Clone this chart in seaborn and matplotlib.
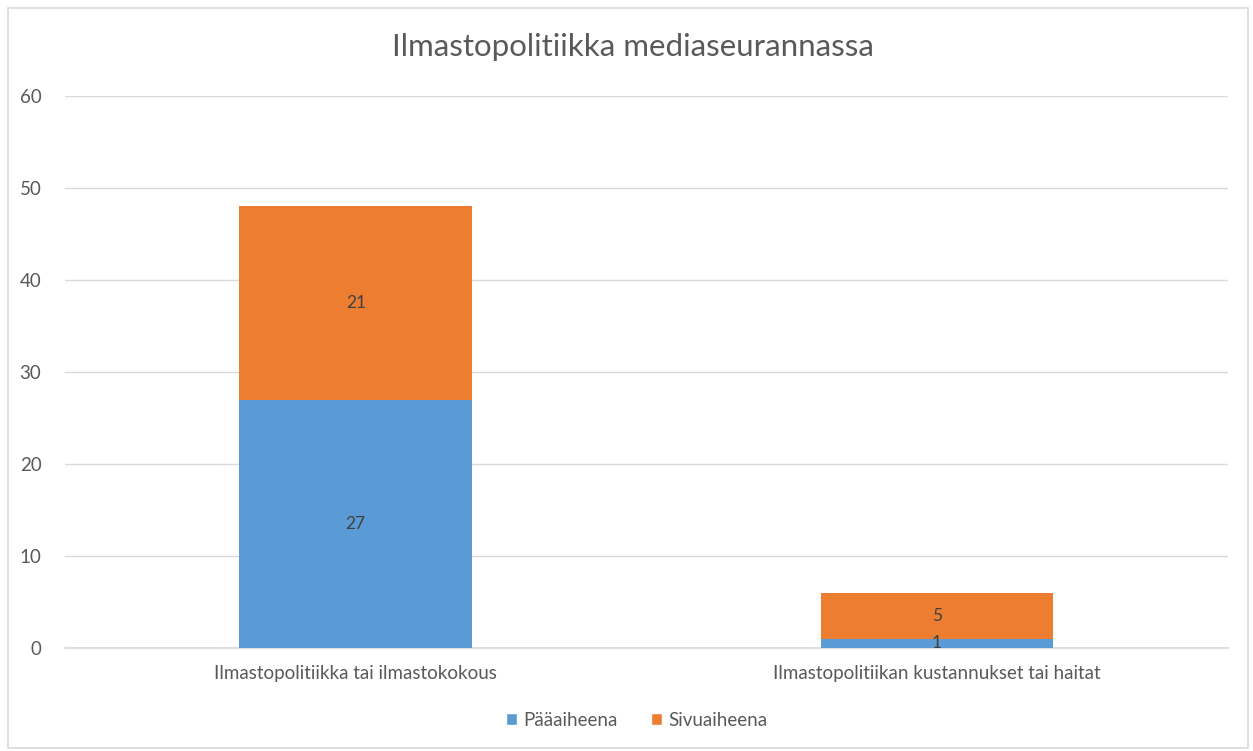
import pandas as pd
import matplotlib.pyplot as plt
import seaborn as sns
from matplotlib.patches import Rectangle, Patch

# Data
categories = ['Ilmastopolitiikka tai ilmastokokous', 'Ilmastopolitiikan kustannukset tai haitat']
paaaiheena = [27, 1]
sivuaiheena = [21, 5]
series_names = ['Pääaiheena', 'Sivuaiheena']
y_ticks = [0, 10, 20, 30, 40, 50, 60]

blue = '#5B9BD5'
orange = '#ED7D31'
text_gray = '#595959'

df = pd.DataFrame({'kategoria': categories, 'paa': paaaiheena, 'sivu': sivuaiheena})
df['yht'] = df['paa'] + df['sivu']

sns.set_theme(style='white')
plt.rcParams['font.family'] = ['Lato', 'DejaVu Sans']

fig = plt.figure(figsize=(12.53, 7.51), dpi=100)
ax = fig.add_axes([0.0519, 0.1372, 0.928, 0.735])

# Stacked bars: total in orange, main topic in blue on top of it
sns.barplot(data=df, x='kategoria', y='yht', color=orange, width=0.4, saturation=1, ax=ax,
            zorder=2, linewidth=0)
sns.barplot(data=df, x='kategoria', y='paa', color=blue, width=0.4, saturation=1, ax=ax,
            zorder=3, linewidth=0)

orange_bars = ax.containers[0]
blue_bars = ax.containers[1]
# labels centered on each segment
for bar, val in zip(blue_bars, df['paa']):
    ax.text(bar.get_x() + bar.get_width() / 2, val / 2, str(val),
            ha='center', va='center', fontsize=12.5, color='#404040', zorder=5)
for bar, base, val in zip(orange_bars, df['paa'], df['sivu']):
    ax.text(bar.get_x() + bar.get_width() / 2, base + val / 2, str(val),
            ha='center', va='center', fontsize=12.5, color='#404040', zorder=5)

ax.set_ylim(0, 60)
ax.set_xlim(-0.5, 1.5)
ax.set_yticks(y_ticks)
ax.yaxis.grid(True, color='#D9D9D9', linewidth=1, zorder=0)
ax.set_axisbelow(True)
for s in ['top', 'right', 'left']:
    ax.spines[s].set_visible(False)
ax.spines['bottom'].set_color('#D9D9D9')
ax.spines['bottom'].set_zorder(1)
ax.set_xlabel('')
ax.set_ylabel('')
ax.tick_params(axis='y', length=0, pad=17, labelsize=13.5, labelcolor=text_gray)
ax.tick_params(axis='x', length=0, pad=12, labelsize=13.5, labelcolor=text_gray)

fig.text(0.505, 0.937, 'Ilmastopolitiikka mediaseurannassa', ha='center', va='center',
         fontsize=22.5, color=text_gray)

handles = [Patch(facecolor=blue, label=series_names[0]), Patch(facecolor=orange, label=series_names[1])]
fig.legend(handles=handles, loc='center', bbox_to_anchor=(0.508, 0.041), ncol=2, frameon=False,
           fontsize=13.5, handlelength=0.6, handleheight=0.6, handletextpad=0.3, columnspacing=1.8,
           labelcolor=text_gray)

# chart border
fig.patches.append(Rectangle((0.0064, 0.004), 0.99, 0.985, transform=fig.transFigure,
                             fill=False, edgecolor='#D9D9D9', linewidth=1.2))

plt.savefig('out.png', dpi=100)
plt.close()
